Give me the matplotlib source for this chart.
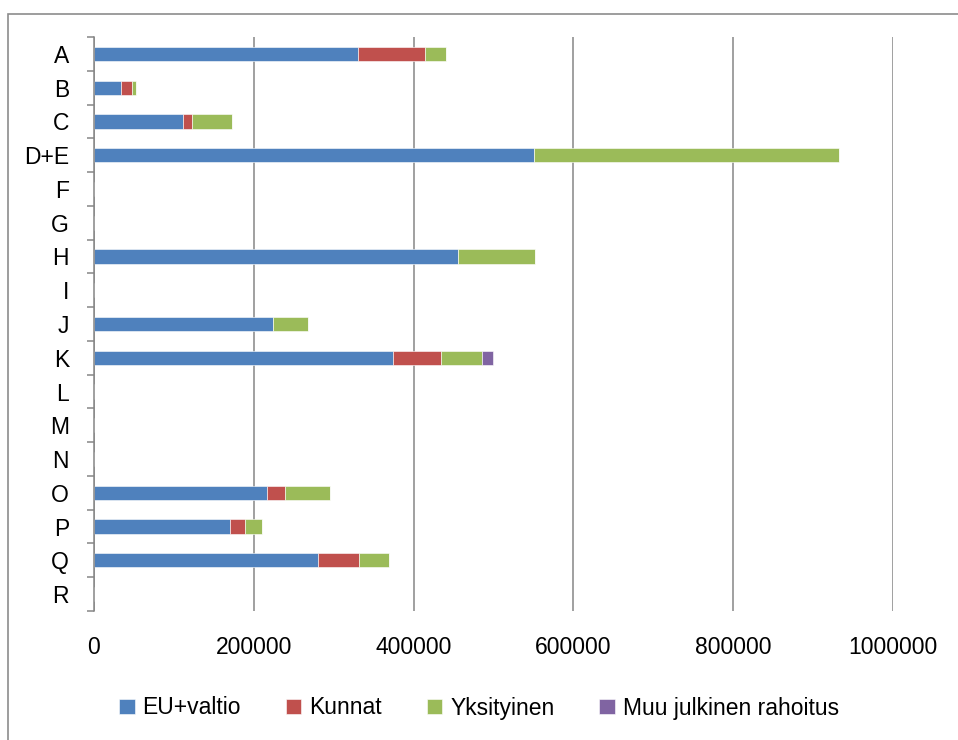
import numpy as np
import matplotlib.pyplot as plt
from matplotlib.patches import Rectangle

# Data
categories = ["A", "B", "C", "D+E", "F", "G", "H", "I", "J", "K",
              "L", "M", "N", "O", "P", "Q", "R"]
eu_valtio = [330600, 34200, 111000, 550300, 0, 0, 455300, 0, 224000, 373600,
             0, 0, 0, 216400, 169700, 279800, 0]
kunnat = [83400, 13300, 11600, 0, 0, 0, 0, 0, 0, 60800,
          0, 0, 0, 22500, 19200, 51700, 0]
yksityinen = [26000, 5000, 50000, 382700, 0, 0, 96700, 0, 44000, 50900,
              0, 0, 0, 55900, 21600, 37500, 0]
muu_julkinen = [0, 0, 0, 0, 0, 0, 0, 0, 0, 13700,
                0, 0, 0, 0, 0, 0, 0]

series = [
    ("EU+valtio", eu_valtio, "#4F81BD"),
    ("Kunnat", kunnat, "#C0504D"),
    ("Yksityinen", yksityinen, "#9BBB59"),
    ("Muu julkinen rahoitus", muu_julkinen, "#8064A2"),
]

plt.rcParams["font.family"] = ["Liberation Sans", "DejaVu Sans"]
fs = 16.5

fig = plt.figure(figsize=(9.58, 7.40), dpi=100)
ax = fig.add_axes([94 / 958, 1 - 611 / 740, (893 - 94) / 958, (611 - 37) / 740])

# outer chart border
fig.patches.append(Rectangle((8 / 958, -0.01), 1.0, 1 - 14 / 740 + 0.01,
                             transform=fig.transFigure, fill=False,
                             edgecolor="#8c8c8c", linewidth=1.2))

y = np.arange(len(categories))
left = np.zeros(len(categories))
for name, values, color in series:
    ax.barh(y, values, left=left, height=0.42, color=color, label=name,
            edgecolor="white", linewidth=0.4)
    left += np.array(values)

ax.set_xlim(0, 1000000)
ax.set_ylim(len(categories) - 0.5, -0.5)
ax.set_xticks(np.arange(0, 1000001, 200000))
ax.set_xticklabels([str(v) for v in range(0, 1000001, 200000)])
ax.set_yticks(y)
ax.set_yticklabels(categories)
ax.set_yticks(np.arange(-0.5, len(categories), 1), minor=True)

ax.tick_params(axis="x", length=0, pad=18, labelsize=fs)
ax.tick_params(axis="y", which="major", length=0, pad=18, labelsize=fs)
ax.tick_params(axis="y", which="minor", length=5, width=1.1, color="#868686")

ax.xaxis.grid(True, color="#868686", linewidth=1.1)
ax.set_axisbelow(True)
for side in ["top", "right", "bottom"]:
    ax.spines[side].set_visible(False)
ax.spines["left"].set_color("#868686")
ax.spines["left"].set_linewidth(1.1)

fig.legend(loc="center", bbox_to_anchor=(0.5, 1 - 708 / 740), ncol=4,
           frameon=False, fontsize=fs, handlelength=0.68, handleheight=0.68,
           handletextpad=0.35, columnspacing=1.95)

plt.savefig("out.png", dpi=100)
